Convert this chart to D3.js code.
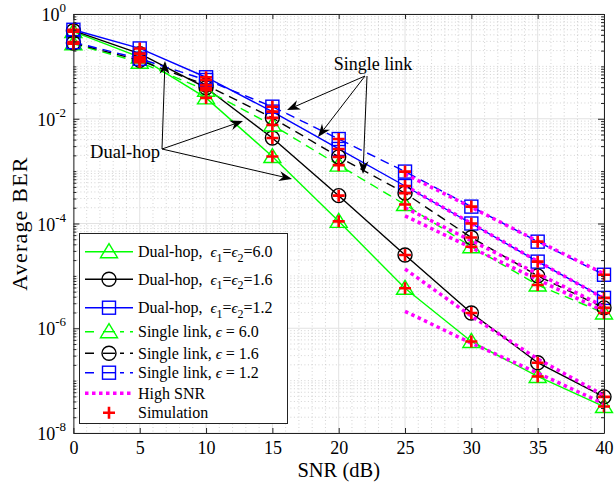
<!DOCTYPE html>
<html><head><meta charset="utf-8">
<script src="https://cdn.jsdelivr.net/npm/d3@7"></script>
<style>
body{margin:0;background:#fff}
text{font-family:"Liberation Serif","Times New Roman",serif;fill:#000}
</style>
</head><body>
<svg id="c" width="615" height="492"></svg>
<script>
// ---------- data ----------
const snr = [0, 5, 10, 15, 20, 25, 30, 35, 40];
const dualHop60 = [0.46, 0.15, 0.025, 1.9e-3, 1.1e-4, 5.8e-6, 5.6e-7, 1.2e-7, 3.2e-8];
const dualHop16 = [0.48, 0.175, 0.039, 4.3e-3, 3.4e-4, 2.5e-5, 1.95e-6, 2.2e-7, 4.9e-8];
const dualHop12 = [0.50, 0.22, 0.062, 0.0137, 2.65e-3, 5.2e-4, 1.0e-4, 1.87e-5, 3.8e-6];
const single60 = [0.27, 0.12, 0.035, 7.6e-3, 1.3e-3, 2.3e-4, 3.6e-5, 6.7e-6, 1.96e-6];
const single16 = [0.28, 0.13, 0.044, 0.0104, 1.87e-3, 3.8e-4, 5.4e-5, 1.0e-5, 2.45e-6];
const single12 = [0.29, 0.14, 0.055, 0.017, 4.1e-3, 9.8e-4, 2.1e-4, 4.5e-5, 1.05e-5];
const snrHigh = [25, 30, 35, 40];
const highSingle12 = [8.8e-4, 2.04e-4, 4.6e-5, 1.1e-5];
const highDual12 = [5.3e-4, 1.0e-4, 1.9e-5, 3.7e-6];
const highSingle16 = [2.0e-4, 4.7e-5, 1.1e-5, 2.6e-6];
const highSingle60 = [1.4e-4, 3.45e-5, 8.5e-6, 2.1e-6];
const highDual16 = [1.35e-5, 1.7e-6, 2.6e-7, 5.2e-8];
const highDual60 = [2.1e-6, 5.2e-7, 1.4e-7, 3.6e-8];
const xTickValues = [0, 5, 10, 15, 20, 25, 30, 35, 40];
const yTickExponents = [0, -2, -4, -6, -8];
const legendLabels = [
  ["Dual-hop,  ", "6.0", true], ["Dual-hop,  ", "1.6", true], ["Dual-hop,  ", "1.2", true],
  ["Single link, ", "6.0", false], ["Single link, ", "1.6", false], ["Single link, ", "1.2", false],
  ["High SNR"], ["Simulation"]
];

// ---------- setup ----------
const svg = d3.select("#c");
const m = {l: 73.4, r: 604, t: 14, b: 433};
const x = d3.scaleLinear().domain([0, 40]).range([m.l, m.r]);
const y = d3.scaleLog().domain([1e-8, 1]).range([m.b, m.t]);
const GREEN = "#00ff00", BLUE = "#0000ff", BLACK = "#000", MAG = "#ff00ff", RED = "#ff0000";

svg.append("rect").attr("x", m.l).attr("y", m.t).attr("width", m.r - m.l).attr("height", m.b - m.t).attr("fill", "#fff");

// minor grid values
const yMinor = [];
for (let e = -8; e < 0; e++) {
  for (let k = 2; k <= 10; k++) {
    const v = k * Math.pow(10, e);
    const ex = Math.round(Math.log10(v));
    if (k === 10 && (ex % 2 === 0)) continue;
    yMinor.push(v);
  }
}
const xMinor = d3.range(0, 41).filter(v => v % 5 !== 0);

const grid = svg.append("g");
grid.selectAll(".xm").data(xMinor).join("line")
  .attr("x1", d => x(d)).attr("x2", d => x(d)).attr("y1", m.t).attr("y2", m.b)
  .attr("stroke", "#c8c8c8").attr("stroke-width", 0.8).attr("stroke-dasharray", "1,2.5");
grid.selectAll(".ym").data(yMinor).join("line")
  .attr("x1", m.l).attr("x2", m.r).attr("y1", d => y(d)).attr("y2", d => y(d))
  .attr("stroke", "#c8c8c8").attr("stroke-width", 0.8).attr("stroke-dasharray", "1,2.5");
grid.selectAll(".xM").data(xTickValues).join("line")
  .attr("x1", d => x(d)).attr("x2", d => x(d)).attr("y1", m.t).attr("y2", m.b)
  .attr("stroke", "#e2e2e2").attr("stroke-width", 1);
grid.selectAll(".yM").data(yTickExponents).join("line")
  .attr("x1", m.l).attr("x2", m.r).attr("y1", d => y(Math.pow(10, d))).attr("y2", d => y(Math.pow(10, d)))
  .attr("stroke", "#e2e2e2").attr("stroke-width", 1);

// ---------- series ----------
const series = [
  {v: dualHop60, c: GREEN, dash: null, mk: "tri"},
  {v: dualHop16, c: BLACK, dash: null, mk: "circ"},
  {v: dualHop12, c: BLUE, dash: null, mk: "sq"},
  {v: single60, c: GREEN, dash: "9,6", mk: "tri"},
  {v: single16, c: BLACK, dash: "9,6", mk: "circ"},
  {v: single12, c: BLUE, dash: "9,6", mk: "sq"}
];
const highs = [highSingle12, highDual12, highSingle16, highSingle60, highDual16, highDual60];

const line = d3.line().x(d => x(d[0])).y(d => y(d[1]));

function drawMarker(g, type, cx, cy, color) {
  if (type === "tri") {
    g.append("path").attr("d", `M${cx},${cy - 8} L${cx + 8.5},${cy + 6} L${cx - 8.5},${cy + 6} Z`)
      .attr("fill", "none").attr("stroke", color).attr("stroke-width", 1.4);
  } else if (type === "circ") {
    g.append("circle").attr("cx", cx).attr("cy", cy).attr("r", 7)
      .attr("fill", "none").attr("stroke", color).attr("stroke-width", 1.4);
  } else if (type === "sq") {
    g.append("rect").attr("x", cx - 6.5).attr("y", cy - 6.5).attr("width", 13).attr("height", 13)
      .attr("fill", "none").attr("stroke", color).attr("stroke-width", 1.4);
  }
}
function drawPlus(g, cx, cy) {
  g.append("path").attr("d", `M${cx - 6},${cy} H${cx + 6} M${cx},${cy - 6} V${cy + 6}`)
    .attr("stroke", RED).attr("stroke-width", 2.6).attr("fill", "none");
}

const plot = svg.append("g");
series.forEach(s => {
  const pts = snr.map((d, i) => [d, s.v[i]]);
  plot.append("path").attr("d", line(pts)).attr("fill", "none").attr("stroke", s.c)
    .attr("stroke-width", 1.4).attr("stroke-dasharray", s.dash);
  pts.forEach(p => drawMarker(plot, s.mk, x(p[0]), y(p[1]), s.c));
});
highs.forEach(h => {
  const pts = snrHigh.map((d, i) => [d, h[i]]);
  plot.append("path").attr("d", line(pts)).attr("fill", "none").attr("stroke", MAG)
    .attr("stroke-width", 3.5).attr("stroke-dasharray", "3.5,3.5");
});
series.forEach(s => {
  snr.forEach((d, i) => drawPlus(plot, x(d), y(s.v[i])));
});

// ---------- axes ----------
const axColor = "#222";
function styleAxis(g) {
  g.selectAll("path.domain").attr("stroke", axColor).attr("stroke-width", 1);
  g.selectAll("line").attr("stroke", axColor).attr("stroke-width", 1);
}
const xb = svg.append("g").attr("transform", `translate(0,${m.b})`)
  .call(d3.axisBottom(x).tickValues(xTickValues).tickSize(-5).tickSizeOuter(0).tickPadding(8).tickFormat(d3.format("d")));
styleAxis(xb);
xb.selectAll("text").attr("font-size", 18).attr("font-family", "Liberation Serif").attr("fill", "#000");
const xt = svg.append("g").attr("transform", `translate(0,${m.t})`)
  .call(d3.axisTop(x).tickValues(xTickValues).tickSize(-5).tickSizeOuter(0).tickFormat(""));
styleAxis(xt);

const yl = svg.append("g").attr("transform", `translate(${m.l},0)`)
  .call(d3.axisLeft(y).tickValues(yTickExponents.map(e => Math.pow(10, e))).tickSize(-6).tickSizeOuter(0).tickFormat(""));
styleAxis(yl);
const ylm = svg.append("g").attr("transform", `translate(${m.l},0)`)
  .call(d3.axisLeft(y).tickValues(yMinor).tickSize(-3).tickSizeOuter(0).tickFormat(""));
styleAxis(ylm); ylm.select("path.domain").remove();
const yr = svg.append("g").attr("transform", `translate(${m.r},0)`)
  .call(d3.axisRight(y).tickValues(yTickExponents.map(e => Math.pow(10, e))).tickSize(-6).tickSizeOuter(0).tickFormat(""));
styleAxis(yr);
const yrm = svg.append("g").attr("transform", `translate(${m.r},0)`)
  .call(d3.axisRight(y).tickValues(yMinor).tickSize(-3).tickSizeOuter(0).tickFormat(""));
styleAxis(yrm); yrm.select("path.domain").remove();

// y tick labels with superscripts
yTickExponents.forEach(e => {
  const t = svg.append("text").attr("x", 66).attr("y", y(Math.pow(10, e)) + 7)
    .attr("text-anchor", "end").attr("font-size", 18);
  t.append("tspan").text("10");
  t.append("tspan").attr("dy", -9).attr("font-size", 13).text(String(e));
});

// axis titles
svg.append("text").attr("x", (m.l + m.r) / 2).attr("y", 477).attr("text-anchor", "middle")
  .attr("font-size", 20.5).text("SNR (dB)");
svg.append("text").attr("transform", `translate(27,${(m.t + m.b) / 2}) rotate(-90)`)
  .attr("text-anchor", "middle").attr("font-size", 22).attr("letter-spacing", 1.2).text("Average BER");

// ---------- annotations ----------
function arrow(x1, y1, x2, y2) {
  const g = svg.append("g");
  const ang = Math.atan2(y2 - y1, x2 - x1);
  const L = 13, Wd = 5;
  const bx = x2 - L * Math.cos(ang), by = y2 - L * Math.sin(ang);
  const nx = x2 - 0.7 * L * Math.cos(ang), ny = y2 - 0.7 * L * Math.sin(ang);
  const px = -Math.sin(ang), py = Math.cos(ang);
  g.append("line").attr("x1", x1).attr("y1", y1).attr("x2", nx).attr("y2", ny)
    .attr("stroke", "#000").attr("stroke-width", 1);
  g.append("path").attr("d", `M${x2},${y2} L${bx + Wd * px},${by + Wd * py} L${nx},${ny} L${bx - Wd * px},${by - Wd * py} Z`)
    .attr("fill", "#000");
}
svg.append("text").attr("x", 373).attr("y", 70).attr("text-anchor", "middle").attr("font-size", 18).text("Single link");
arrow(365, 76, 287, 110);
arrow(365, 76, 318, 137);
arrow(367, 76, 363, 174);
svg.append("text").attr("x", 125).attr("y", 158).attr("text-anchor", "middle").attr("font-size", 18.5).text("Dual-hop");
arrow(162, 149, 165, 61);
arrow(162, 149, 243, 121);
arrow(162, 149, 292, 179);

// ---------- legend ----------
const lg = svg.append("g");
lg.append("rect").attr("x", 79.5).attr("y", 233.5).attr("width", 208).attr("height", 190)
  .attr("fill", "#fff").attr("stroke", "#222").attr("stroke-width", 1);
const rowY = [251.7, 279.3, 307.7, 331.7, 353.3, 372.7, 393.3, 412.7];
const eps = "\u03F5";
legendLabels.forEach((lab, i) => {
  const cy = rowY[i];
  if (i < 6) {
    const s = series[i];
    lg.append("line").attr("x1", 85).attr("x2", 133).attr("y1", cy).attr("y2", cy)
      .attr("stroke", s.c).attr("stroke-width", 1.4).attr("stroke-dasharray", s.dash ? "9,6" : null);
    if (s.dash) {
      lg.append("rect").attr("x", 98).attr("y", cy - 8).attr("width", 22).attr("height", 16).attr("fill", "#fff");
    }
    drawMarker(lg, s.mk, 109, cy, s.c);
    if (s.dash) {
      lg.append("line").attr("x1", 103).attr("x2", 115).attr("y1", cy).attr("y2", cy)
        .attr("stroke", s.c).attr("stroke-width", 1.4);
    }
    const t = lg.append("text").attr("x", 138).attr("y", cy + 5.5).attr("font-size", 16).attr("xml:space", "preserve");
    t.append("tspan").text(lab[0]);
    if (lab[2]) {
      t.append("tspan").attr("font-style", "italic").attr("font-size", 15).text(eps);
      t.append("tspan").attr("dy", 4.5).attr("font-size", 12).text("1");
      t.append("tspan").attr("dy", -4.5).text("=");
      t.append("tspan").attr("font-style", "italic").attr("font-size", 15).text(eps);
      t.append("tspan").attr("dy", 4.5).attr("font-size", 12).text("2");
      t.append("tspan").attr("dy", -4.5).text("=" + lab[1]);
    } else {
      t.append("tspan").attr("font-style", "italic").attr("font-size", 15).text(eps);
      t.append("tspan").text(" = " + lab[1]);
    }
  } else if (i === 6) {
    lg.append("line").attr("x1", 85).attr("x2", 133).attr("y1", cy).attr("y2", cy)
      .attr("stroke", MAG).attr("stroke-width", 3.5).attr("stroke-dasharray", "3.5,3.5");
    lg.append("text").attr("x", 138).attr("y", cy + 5.5).attr("font-size", 16).text(lab[0]);
  } else {
    drawPlus(lg, 109, cy);
    lg.append("text").attr("x", 138).attr("y", cy + 5.5).attr("font-size", 16).text(lab[0]);
  }
});
</script>
</body></html>
